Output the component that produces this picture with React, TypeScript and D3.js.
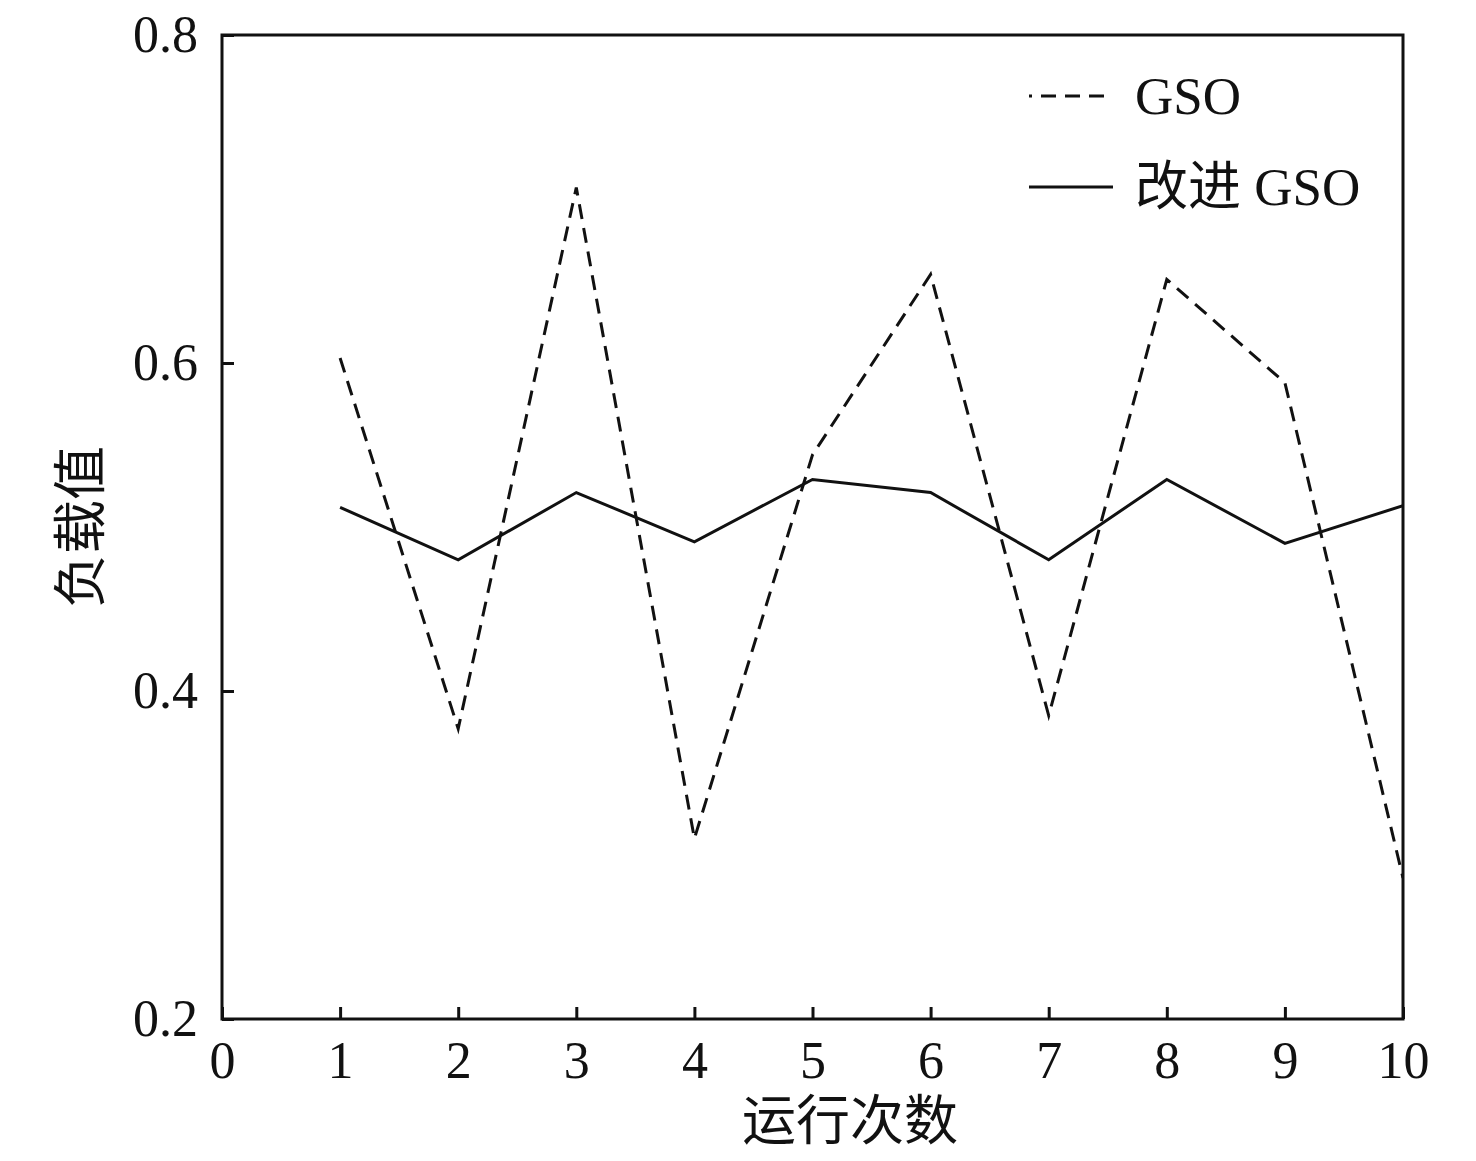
import React, { useEffect, useRef } from 'react';
import * as d3 from 'd3';

const runs = [1, 2, 3, 4, 5, 6, 7, 8, 9, 10];
const gsoValues = [0.603, 0.377, 0.707, 0.31, 0.544, 0.654, 0.385, 0.651, 0.588, 0.286];
const improvedValues = [0.512, 0.48, 0.521, 0.491, 0.529, 0.521, 0.48, 0.529, 0.49, 0.513];
const xTicks = [0, 1, 2, 3, 4, 5, 6, 7, 8, 9, 10];
const yTicks = [0.2, 0.4, 0.6, 0.8];
const seriesNames = ['GSO', '改进 GSO'];

const App: React.FC = () => {
  const svgRef = useRef<SVGSVGElement | null>(null);

  useEffect(() => {
    if (!svgRef.current) return;
    d3.select(svgRef.current).selectAll('*').remove();

    const width = 1476;
    const height = 1161;
    const margin = { top: 35, right: 73, bottom: 142, left: 222 };
    const innerW = width - margin.left - margin.right;
    const innerH = height - margin.top - margin.bottom;
    const numFont = '"Liberation Serif", "DejaVu Serif", serif';
    const cjkFont = '"Liberation Serif", "Noto Sans CJK SC", serif';

    const svg = d3.select(svgRef.current)
      .attr('width', width)
      .attr('height', height);

    const g = svg.append('g')
      .attr('transform', `translate(${margin.left},${margin.top})`);

    const x = d3.scaleLinear().domain([0, 10]).range([0, innerW]);
    const y = d3.scaleLinear().domain([0.2, 0.8]).range([innerH, 0]);

    // clip so the lines stop at the frame
    svg.append('defs').append('clipPath').attr('id', 'plot-clip')
      .append('rect').attr('width', innerW).attr('height', innerH);

    // x axis, ticks pointing inward
    const xAxis = g.append('g')
      .attr('transform', `translate(0,${innerH})`)
      .call(d3.axisBottom(x).tickValues(xTicks).tickSizeInner(-12).tickSizeOuter(0).tickPadding(22).tickFormat(d3.format('d')));
    xAxis.select('.domain').remove();
    xAxis.selectAll('line').attr('stroke', '#111').attr('stroke-width', 3);
    xAxis.selectAll('text')
      .style('font-family', numFont)
      .style('font-size', '52px')
      .attr('fill', '#111');

    const yAxis = g.append('g')
      .call(d3.axisLeft(y).tickValues(yTicks).tickSizeInner(-12).tickSizeOuter(0).tickPadding(24).tickFormat(d3.format('.1f')));
    yAxis.select('.domain').remove();
    yAxis.selectAll('line').attr('stroke', '#111').attr('stroke-width', 3);
    yAxis.selectAll('text')
      .style('font-family', numFont)
      .style('font-size', '52px')
      .attr('fill', '#111');

    // frame
    g.append('rect')
      .attr('width', innerW)
      .attr('height', innerH)
      .attr('fill', 'none')
      .attr('stroke', '#111')
      .attr('stroke-width', 3);

    const line = d3.line<number>()
      .x((_, i) => x(runs[i]))
      .y(d => y(d));

    const lines = g.append('g').attr('clip-path', 'url(#plot-clip)');

    lines.append('path')
      .datum(gsoValues)
      .attr('d', line)
      .attr('fill', 'none')
      .attr('stroke', '#111')
      .attr('stroke-width', 3)
      .attr('stroke-dasharray', '15,9');

    lines.append('path')
      .datum(improvedValues)
      .attr('d', line)
      .attr('fill', 'none')
      .attr('stroke', '#111')
      .attr('stroke-width', 3);

    // legend
    const legend = svg.append('g').attr('transform', 'translate(1029,96)');
    seriesNames.forEach((name, i) => {
      const item = legend.append('g').attr('transform', `translate(0,${i * 91})`);
      item.append('line')
        .attr('x1', 0).attr('x2', 84)
        .attr('stroke', '#111')
        .attr('stroke-width', 3)
        .attr('stroke-dasharray', i === 0 ? '15,9' : null)
        .attr('stroke-dashoffset', i === 0 ? 12 : 0);
      item.append('text')
        .attr('x', 106)
        .attr('y', 18)
        .text(name)
        .style('font-family', cjkFont)
        .style('font-size', '53px')
        .attr('fill', '#111');
    });

    // axis titles
    svg.append('text')
      .attr('x', 850)
      .attr('y', 1140)
      .attr('text-anchor', 'middle')
      .text('运行次数')
      .style('font-family', cjkFont)
      .style('font-size', '54px')
      .attr('fill', '#111');

    svg.append('text')
      .attr('transform', `translate(100,${margin.top + y(0.5)}) rotate(-90)`)
      .attr('text-anchor', 'middle')
      .text('负载值')
      .style('font-family', cjkFont)
      .style('font-size', '54px')
      .attr('fill', '#111');
  }, []);

  return (
    <div style={{ position: 'absolute', left: 0, top: 0, background: '#fff' }}>
      <svg ref={svgRef} style={{ display: 'block' }}></svg>
    </div>
  );
};

export default App;
